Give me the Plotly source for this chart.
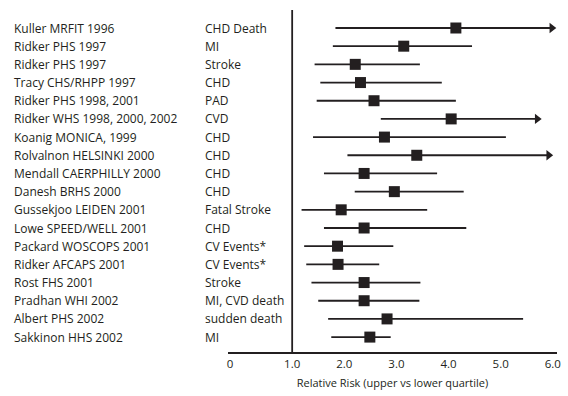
import plotly.graph_objects as go

studies = ["Kuller MRFIT 1996", "Ridker PHS 1997", "Ridker PHS 1997", "Tracy CHS/RHPP 1997",
           "Ridker PHS 1998, 2001", "Ridker WHS 1998, 2000, 2002", "Koanig MONICA, 1999",
           "Rolvalnon HELSINKI 2000", "Mendall CAERPHILLY 2000", "Danesh BRHS 2000",
           "Gussekjoo LEIDEN 2001", "Lowe SPEED/WELL 2001", "Packard WOSCOPS 2001",
           "Ridker AFCAPS 2001", "Rost FHS 2001", "Pradhan WHI 2002", "Albert PHS 2002",
           "Sakkinon HHS 2002"]
endpoints = ["CHD Death", "MI", "Stroke", "CHD", "PAD", "CVD", "CHD", "CHD", "CHD", "CHD",
             "Fatal Stroke", "CHD", "CV Events*", "CV Events*", "Stroke", "MI, CVD death",
             "sudden death", "MI"]
rr = [4.14, 3.14, 2.21, 2.31, 2.57, 4.05, 2.77, 3.39, 2.38, 2.96, 1.94, 2.38, 1.87, 1.88,
      2.38, 2.38, 2.82, 2.49]
lo = [1.83, 1.78, 1.43, 1.54, 1.47, 2.70, 1.40, 2.06, 1.61, 2.20, 1.18, 1.61, 1.23, 1.27,
      1.37, 1.50, 1.69, 1.75]
hi = [5.98, 4.45, 3.45, 3.87, 4.14, 5.70, 5.10, 5.92, 3.78, 4.29, 3.59, 4.34, 2.94, 2.67,
      3.46, 3.44, 5.43, 2.89]
open_ended = [True, False, False, False, False, True, False, True, False, False, False, False,
              False, False, False, False, False, False]
tick_vals = [-0.19, 1, 2, 3, 4, 5, 6]
tick_text = ["0", "1.0", "2.0", "3.0", "4.0", "5.0", "6.0"]

INK = "#231f20"
FONT = "Open Sans, Liberation Sans, sans-serif"
rows = list(range(len(studies)))

lx, ly = [], []
for i in rows:
    lx += [lo[i], hi[i], None]
    ly += [i, i, None]

fig = go.Figure()
fig.add_trace(go.Scatter(x=lx, y=ly, mode="lines", line=dict(color=INK, width=1.8),
                         hoverinfo="skip", showlegend=False))
ax_x = [hi[i] for i in rows if open_ended[i]]
ax_y = [i for i in rows if open_ended[i]]
fig.add_trace(go.Scatter(x=ax_x, y=ax_y, mode="markers",
                         marker=dict(symbol="triangle-right", size=9, color=INK),
                         hoverinfo="skip", showlegend=False))
fig.add_trace(go.Scatter(x=rr, y=rows, mode="markers",
                         marker=dict(symbol="square", size=11, color=INK),
                         showlegend=False))

fig.add_shape(type="line", xref="x", yref="paper", x0=1, x1=1, y0=0, y1=1,
              line=dict(color=INK, width=1.8))

for i in rows:
    fig.add_annotation(x=-0.656, xref="paper", y=i, yref="y", text=studies[i],
                       showarrow=False, xanchor="left", yanchor="middle",
                       font=dict(family=FONT, size=12, color=INK))
    fig.add_annotation(x=-0.075, xref="paper", y=i, yref="y", text=endpoints[i],
                       showarrow=False, xanchor="left", yanchor="middle",
                       font=dict(family=FONT, size=12, color=INK))

fig.update_layout(
    width=568, height=396,
    margin=dict(l=228, r=7, t=10, b=44),
    paper_bgcolor="white", plot_bgcolor="white",
    font=dict(family=FONT, color=INK),
    xaxis=dict(range=[-0.231, 6.08], showgrid=False, zeroline=False,
               showline=True, linecolor=INK, linewidth=1.8,
               tickmode="array", tickvals=tick_vals, ticktext=tick_text,
               ticks="", tickfont=dict(size=11.5, color=INK),
               title=dict(text="Relative Risk (upper vs lower quartile)",
                          font=dict(size=11, color=INK), standoff=10)),
    yaxis=dict(range=[17.82, -0.99], showgrid=False, zeroline=False, showline=False,
               showticklabels=False, ticks=""),
)

fig.write_html("out.html")
